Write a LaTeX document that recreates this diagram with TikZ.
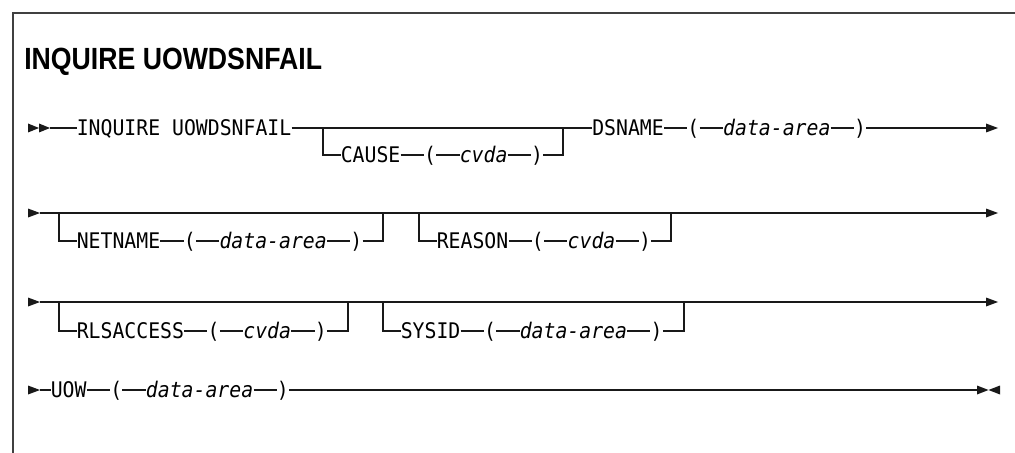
\documentclass[tikz,border=0pt]{standalone}
\usepackage{fontspec}
\newfontfamily\synfont[FakeStretch=0.92]{DejaVu Sans Mono}
\newfontfamily\titlefont[FakeStretch=0.87]{Liberation Sans}

\begin{document}
\begin{tikzpicture}[x=0.025cm, y=-0.025cm,
    kw/.style={anchor=west, inner sep=0pt, text height=0.39cm, text depth=0pt, font=\fontsize{15.3}{18}\synfont},
    var/.style={kw, font=\fontsize{15.3}{18}\synfont\itshape},
    heading/.style={anchor=base west, inner sep=0pt, font=\fontsize{21.8}{26}\titlefont\bfseries},
    rail/.style={line width=0.9pt, black!90},
    frame/.style={line width=0.9pt, black!75},
    tip/.style={fill=black!90}]

\useasboundingbox (0,0) rectangle (1015,453);

% Frame (top and left edge only)
\draw[frame] (13,453) -- (13,13) -- (1015,13);

% Title
\node[heading] (title) at (24,70) {INQUIRE UOWDSNFAIL};

% Row 1: INQUIRE UOWDSNFAIL [CAUSE(cvda)] DSNAME(data-area)
\coordinate (s1) at (50,128);
\coordinate (j1a) at (323,128);
\coordinate (j1b) at (563,128);
\coordinate (e1) at (986,128);
\node[kw] (inq) at (76.5,128) {INQUIRE UOWDSNFAIL};
\node[kw] (cause) at (340.5,155) {CAUSE};
\node[kw] (causeL) at (423.8,155) {(};
\node[var] (causeV) at (459.5,155) {cvda};
\node[kw] (causeR) at (530.9,155) {)};
\node[kw] (dsn) at (592,128) {DSNAME};
\node[kw] (dsnL) at (687.2,128) {(};
\node[var] (dsnV) at (722.9,128) {data-area};
\node[kw] (dsnR) at (853.8,128) {)};

\fill[tip] (28,123.5) -- (39,128) -- (28,132.5) -- cycle;
\fill[tip] (39,123.5) -- (50,128) -- (39,132.5) -- cycle;
\draw[rail] (s1) -- (inq) -- (dsn) -- (dsnL) -- (dsnV) -- (dsnR) -- (e1);
\draw[rail] (j1a) |- (cause) -- (causeL) -- (causeV) -- (causeR) -| (j1b);
\fill[tip] (986,123.5) -- (998,128) -- (986,132.5) -- cycle;

% Row 2: [NETNAME(data-area)] [REASON(cvda)]
\coordinate (s2) at (40,213);
\coordinate (j2a) at (59,213);
\coordinate (j2b) at (383,213);
\coordinate (j2c) at (419,213);
\coordinate (j2d) at (671,213);
\coordinate (e2) at (986,213);
\node[kw] (net) at (76.5,241) {NETNAME};
\node[kw] (netL) at (183.6,241) {(};
\node[var] (netV) at (219.3,241) {data-area};
\node[kw] (netR) at (350.2,241) {)};
\node[kw] (rsn) at (436.5,241) {REASON};
\node[kw] (rsnL) at (531.7,241) {(};
\node[var] (rsnV) at (567.4,241) {cvda};
\node[kw] (rsnR) at (638.8,241) {)};

\fill[tip] (28,208.5) -- (40,213) -- (28,217.5) -- cycle;
\draw[rail] (s2) -- (e2);
\draw[rail] (j2a) |- (net) -- (netL) -- (netV) -- (netR) -| (j2b);
\draw[rail] (j2c) |- (rsn) -- (rsnL) -- (rsnV) -- (rsnR) -| (j2d);
\fill[tip] (986,208.5) -- (998,213) -- (986,217.5) -- cycle;

% Row 3: [RLSACCESS(cvda)] [SYSID(data-area)]
\coordinate (s3) at (40,302);
\coordinate (j3a) at (59,302);
\coordinate (j3b) at (348,302);
\coordinate (j3c) at (383,302);
\coordinate (j3d) at (684,302);
\coordinate (e3) at (986,302);
\node[kw] (rls) at (76.5,331) {RLSACCESS};
\node[kw] (rlsL) at (207.4,331) {(};
\node[var] (rlsV) at (243.1,331) {cvda};
\node[kw] (rlsR) at (314.5,331) {)};
\node[kw] (sys) at (400.5,331) {SYSID};
\node[kw] (sysL) at (483.8,331) {(};
\node[var] (sysV) at (519.5,331) {data-area};
\node[kw] (sysR) at (650.4,331) {)};

\fill[tip] (28,297.5) -- (40,302) -- (28,306.5) -- cycle;
\draw[rail] (s3) -- (e3);
\draw[rail] (j3a) |- (rls) -- (rlsL) -- (rlsV) -- (rlsR) -| (j3b);
\draw[rail] (j3c) |- (sys) -- (sysL) -- (sysV) -- (sysR) -| (j3d);
\fill[tip] (986,297.5) -- (998,302) -- (986,306.5) -- cycle;

% Row 4: UOW(data-area), end of statement
\coordinate (s4) at (40,390);
\coordinate (e4) at (977,390);
\node[kw] (uow) at (50.5,390) {UOW};
\node[kw] (uowL) at (110,390) {(};
\node[var] (uowV) at (145.7,390) {data-area};
\node[kw] (uowR) at (276.6,390) {)};

\fill[tip] (28,385.5) -- (40,390) -- (28,394.5) -- cycle;
\draw[rail] (s4) -- (uow) -- (uowL) -- (uowV) -- (uowR) -- (e4);
\fill[tip] (977,385.5) -- (988.5,390) -- (977,394.5) -- cycle;
\fill[tip] (1000,385.5) -- (988.5,390) -- (1000,394.5) -- cycle;

\end{tikzpicture}
\end{document}
